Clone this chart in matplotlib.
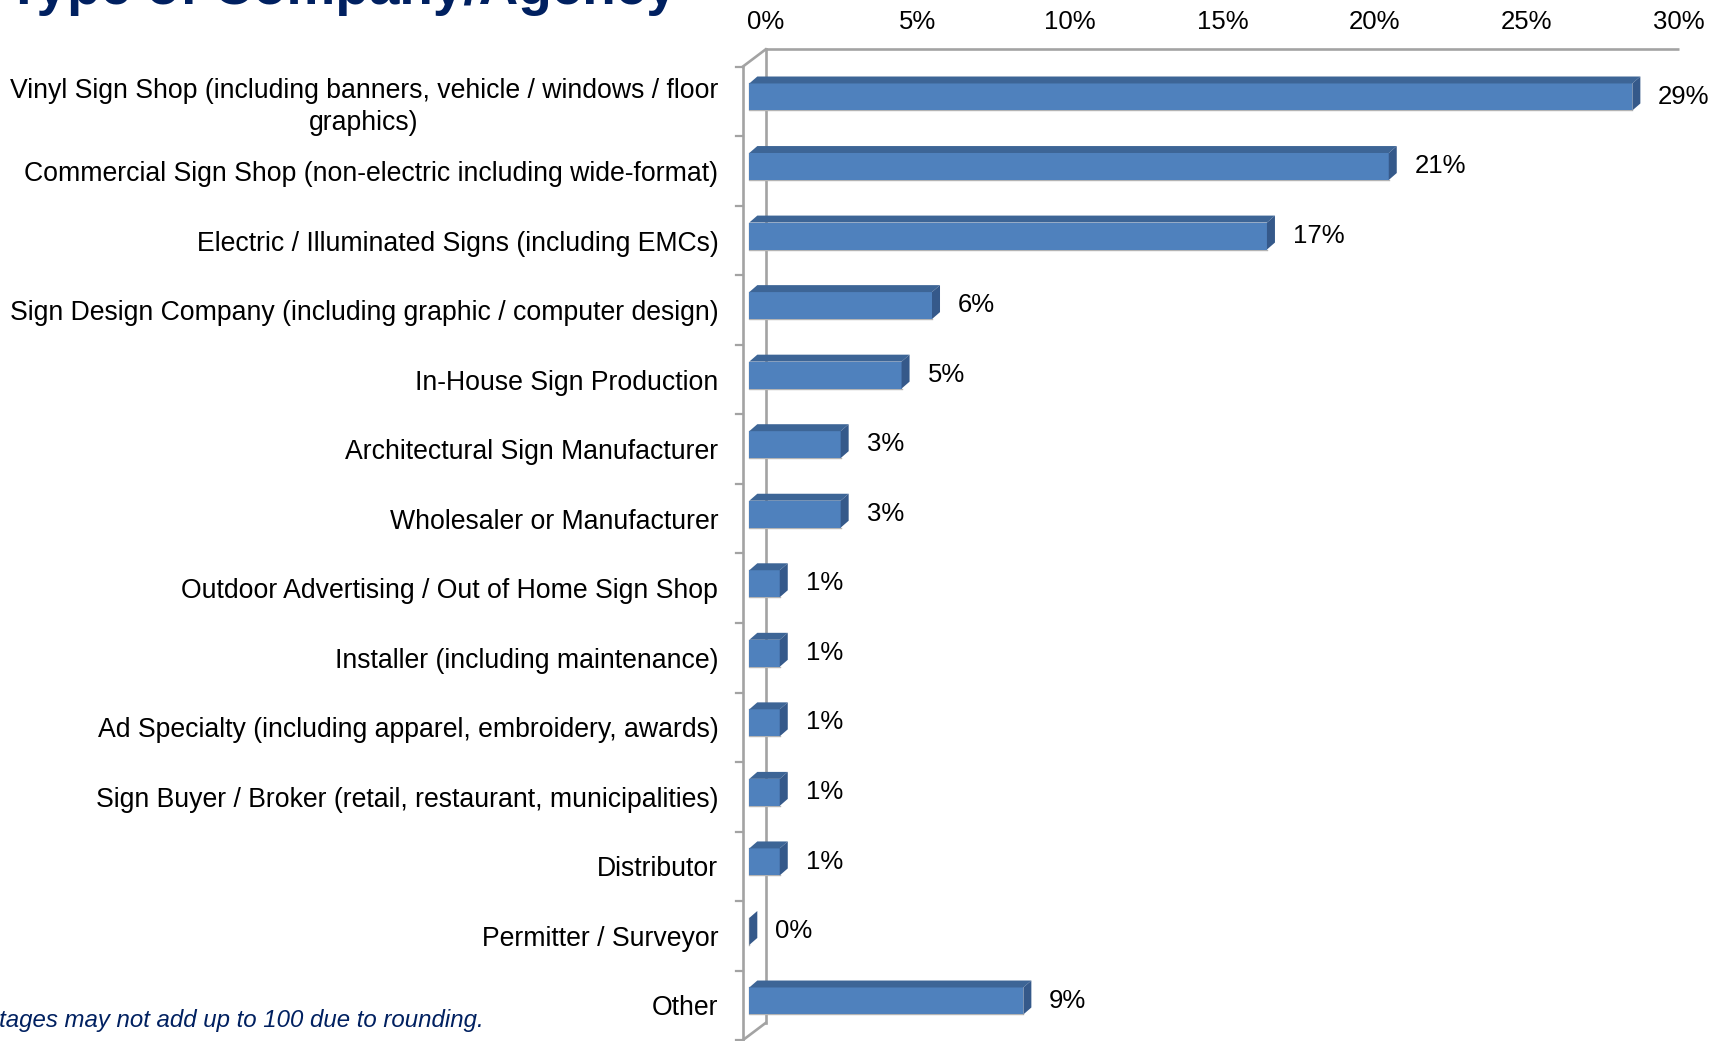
import matplotlib.pyplot as plt
from matplotlib.patches import Polygon

plt.rcParams['font.family'] = ['Liberation Sans', 'DejaVu Sans']

categories = [
    "Vinyl Sign Shop (including banners, vehicle / windows / floor\ngraphics)",
    "Commercial Sign Shop (non-electric including wide-format)",
    "Electric / Illuminated Signs (including EMCs)",
    "Sign Design Company (including graphic / computer design)",
    "In-House Sign Production",
    "Architectural Sign Manufacturer",
    "Wholesaler or Manufacturer",
    "Outdoor Advertising / Out of Home Sign Shop",
    "Installer (including maintenance)",
    "Ad Specialty (including apparel, embroidery, awards)",
    "Sign Buyer / Broker (retail, restaurant, municipalities)",
    "Distributor",
    "Permitter / Surveyor",
    "Other",
]
values = [29, 21, 17, 6, 5, 3, 3, 1, 1, 1, 1, 1, 0, 9]
x_ticks = [0, 5, 10, 15, 20, 25, 30]

W, H = 1735, 1041
fig = plt.figure(figsize=(W / 100, H / 100), dpi=100)

# front plane in pixels: 0% at x0_px, sx px per percent; band edges from y0_px, sy apart
x0_px, sx = 749.3, 30.45
y0_px, sy = 66.7, 69.54
xlim = (-0.6, 31.0)
ylim = (13.55, -0.9)
left_px = x0_px + xlim[0] * sx
right_px = x0_px + xlim[1] * sx
top_px = y0_px + (ylim[1] + 0.5) * sy
bot_px = y0_px + (ylim[0] + 0.5) * sy
ax = fig.add_axes([left_px / W, 1 - bot_px / H, (right_px - left_px) / W, (bot_px - top_px) / H])
ax.set_xlim(*xlim)
ax.set_ylim(*ylim)
for s in ax.spines.values():
    s.set_visible(False)

n = len(categories)
grey = '#a3a3a3'
wall_dx, wall_dy = 0.54, -0.25   # depth of the chart box
floor_x = -0.217                 # outer edge of the left wall
y_top, y_bot = -0.5, n - 0.5

# back wall edges
ax.plot([wall_dx, x_ticks[-1] + wall_dx], [y_top + wall_dy] * 2, color=grey, lw=1.9, zorder=1, solid_capstyle='butt')
ax.plot([wall_dx, wall_dx], [y_top + wall_dy, y_bot + wall_dy], color=grey, lw=1.9, zorder=1)
# left wall
ax.plot([floor_x, floor_x], [y_top, y_bot], color=grey, lw=1.9, zorder=1)
ax.plot([floor_x, wall_dx], [y_top, y_top + wall_dy], color=grey, lw=1.9, zorder=1)
ax.plot([floor_x, wall_dx], [y_bot, y_bot + wall_dy], color=grey, lw=1.9, zorder=1)
for k in range(n + 1):
    ax.plot([floor_x - 0.22, floor_x], [k - 0.5] * 2, color=grey, lw=1.6, zorder=1)

# 3D bars: front face + top face + side face
front_c, top_c, side_c = '#4f81bd', '#3d6596', '#35598a'
bar_h, bar_off = 0.388, -0.065
ddx, ddy = 0.263, -0.10
ys = [i + bar_off for i in range(n)]
ax.barh(ys, values, height=bar_h, color=front_c, edgecolor='none', zorder=3)
for y, v in zip(ys, values):
    t, b = y - bar_h / 2, y + bar_h / 2
    ax.plot([0, 0, v], [t, b, b], color='#b4b4b4', lw=1.0, zorder=2.9)
    ax.add_patch(Polygon([(0, t), (v, t), (v + ddx, t + ddy), (ddx, t + ddy)],
                         closed=True, facecolor=top_c, edgecolor='none', zorder=3))
    ax.add_patch(Polygon([(v, t), (v, b), (v + ddx, b + ddy), (v + ddx, t + ddy)],
                         closed=True, facecolor=side_c, edgecolor='none', zorder=3))

for i, v in enumerate(values):
    ax.text(v + 0.85, i - 0.07, f"{v}%", ha='left', va='center', fontsize=18.5, color='black')

# value axis labels sit on the back wall
ax.set_xticks([t + wall_dx for t in x_ticks])
ax.set_xticklabels([f"{t}%" for t in x_ticks], fontsize=18.5)
ax.tick_params(axis='x', length=0, pad=3.7, top=True, labeltop=True, bottom=False, labelbottom=False)

ax.set_yticks(range(n))
ax.set_yticklabels(categories, fontsize=19.2)
ax.tick_params(axis='y', length=0, pad=9.2)
first = ax.get_yticklabels()[0]
first.set_multialignment('center')
first.set_linespacing(1.3)

fig.text(7 / W, 1 - 4 / H, "Type of Company/Agency", ha='left', va='baseline',
         fontsize=39.5, fontweight='bold', color='#002060')
fig.text(484 / W, 1 - 1027.3 / H, "Percentages may not add up to 100 due to rounding.",
         ha='right', va='baseline', fontsize=17.3, style='italic', color='#002060')

fig.savefig('out.png', dpi=100)
